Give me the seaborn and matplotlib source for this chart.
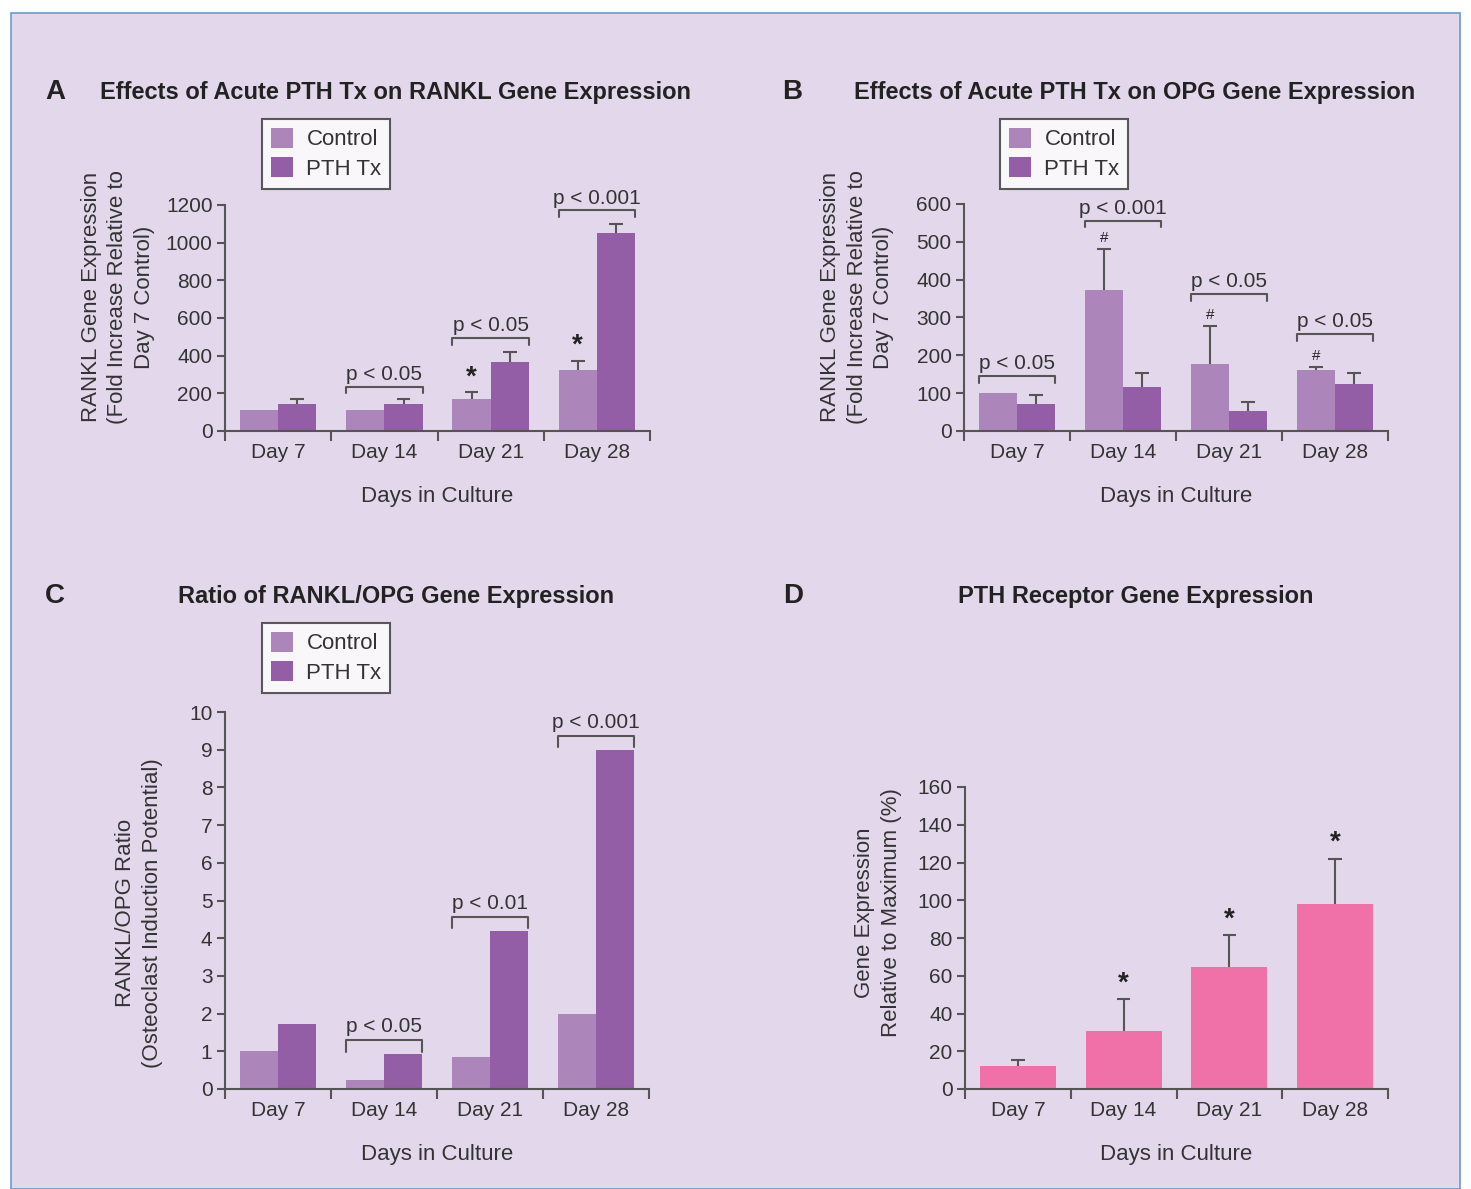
import numpy as np
import pandas as pd
import matplotlib
matplotlib.use("Agg")
import matplotlib.pyplot as plt
import seaborn as sns
from matplotlib.patches import Rectangle, Patch

# ---------------- data ----------------
days = ['Day 7', 'Day 14', 'Day 21', 'Day 28']
groups = ['Control', 'PTH Tx']

# A: RANKL
rankl_ctrl = [109, 113, 171, 325]
rankl_pth = [145, 145, 367, 1050]
rankl_ctrl_err = [0, 0, 37, 49]
rankl_pth_err = [25, 25, 53, 47]
rankl_p_day = [1, 2, 3]
rankl_p_text = ['p < 0.05', 'p < 0.05', 'p < 0.001']
rankl_p_y = [236, 494, 1171]
rankl_star = [False, False, True, True]

# B: OPG
opg_ctrl = [101, 374, 178, 162]
opg_pth = [72, 115, 54, 123]
opg_ctrl_err = [0, 107, 99, 7]
opg_pth_err = [23, 38, 23, 29]
opg_p_day = [0, 1, 2, 3]
opg_p_text = ['p < 0.05', 'p < 0.001', 'p < 0.05', 'p < 0.05']
opg_p_y = [146, 556, 362, 256]
opg_hash = [False, True, True, True]

# C: ratio
ratio_ctrl = [1.01, 0.24, 0.85, 1.99]
ratio_pth = [1.73, 0.94, 4.19, 8.99]
ratio_p_day = [1, 2, 3]
ratio_p_text = ['p < 0.05', 'p < 0.01', 'p < 0.001']
ratio_p_y = [1.29, 4.56, 9.36]

# D: PTH receptor
pthr_vals = [12.2, 30.7, 64.6, 98.0]
pthr_err = [3, 17, 17, 24]

# ---------------- style ----------------
W, H = 1471, 1189
BG = '#E3D8EB'
C_CTRL = '#AC85BB'
C_PTH = '#935EA6'
C_PINK = '#F070A8'
TXT = '#333333'
AXC = '#555555'

sns.set_style("white")
plt.rcParams['font.family'] = ['Liberation Sans', 'DejaVu Sans']
plt.rcParams['text.color'] = TXT

fig = plt.figure(figsize=(W / 100, H / 100), dpi=100)
fig.patch.set_facecolor('white')
fig.patches.append(Rectangle((11 / W, 0), 1449 / W, 1 - 13 / H, transform=fig.transFigure,
                             facecolor=BG, edgecolor='#6A9BD1', linewidth=1.2, zorder=-10))


def px(x, y):
    return x / W, 1 - y / H


def make_ax(left, top, right, bottom):
    ax = fig.add_axes([left / W, 1 - bottom / H, (right - left) / W, (bottom - top) / H])
    ax.set_facecolor('none')
    return ax


def style_ax(ax, ylim, yticks):
    ax.set_xlim(-0.5, 3.5)
    ax.set_ylim(*ylim)
    ax.set_yticks(yticks)
    ax.set_xticks([-0.5, 0.5, 1.5, 2.5, 3.5])
    ax.set_xticklabels([])
    ax.set_xticks(range(4), minor=True)
    ax.set_xticklabels(days, minor=True)
    ax.tick_params(axis='x', which='major', direction='out', length=7, width=1.5, color=AXC, bottom=True)
    ax.tick_params(axis='x', which='minor', length=0, labelsize=15, labelcolor=TXT, pad=9)
    ax.tick_params(axis='y', direction='out', length=6, width=1.5, color=AXC, left=True,
                   labelsize=15, labelcolor=TXT, pad=3)
    for s in ['top', 'right']:
        ax.spines[s].set_visible(False)
    for s in ['left', 'bottom']:
        ax.spines[s].set_color(AXC)
        ax.spines[s].set_linewidth(1.5)
    ax.set_xlabel('Days in Culture', fontsize=16, labelpad=17, color=TXT)
    ax.set_ylabel('')


def grouped(ax, ctrl, pth):
    df = pd.DataFrame({'day': days * 2, 'group': [groups[0]] * 4 + [groups[1]] * 4,
                       'value': list(ctrl) + list(pth)})
    sns.barplot(data=df, x='day', y='value', hue='group', order=days, hue_order=groups,
                palette=[C_CTRL, C_PTH], width=0.72, errorbar=None, saturation=1,
                legend=False, linewidth=0, ax=ax)


def errbars(ax, container, errs, color=AXC):
    # upper-only error bars: stem from bar top plus a cap
    xs = np.array([b.get_x() + b.get_width() / 2 for b in container])
    ys = np.array([b.get_height() for b in container])
    errs = np.array(errs, dtype=float)
    m = errs > 0
    ax.vlines(xs[m], ys[m], ys[m] + errs[m], color=color, lw=1.5, zorder=0.5)
    ax.hlines(ys[m] + errs[m], xs[m] - 0.065, xs[m] + 0.065, color=color, lw=1.5, zorder=0.5)
    return xs, ys + errs


def bracket(ax, i, y, text, ylim):
    c = ax.containers
    x0 = c[0][i].get_x()
    x1 = c[1][i].get_x() + c[1][i].get_width()
    d = (ylim[1] - ylim[0]) * 0.03
    ax.plot([x0, x0, x1, x1], [y - d, y, y, y - d], color=AXC, lw=1.5, clip_on=False)
    ax.text((x0 + x1) / 2, y + d * 0.4, text, ha='center', va='bottom', fontsize=15, color=TXT)


def legend(ax, x, y):
    handles = [Patch(facecolor=C_CTRL, edgecolor='none', label=groups[0]),
               Patch(facecolor=C_PTH, edgecolor='none', label=groups[1])]
    leg = ax.legend(handles=handles, loc='upper left', bbox_to_anchor=px(x, y),
                    bbox_transform=fig.transFigure, frameon=True, fancybox=False,
                    fontsize=16, handlelength=1.0, handleheight=1.0, handletextpad=0.6,
                    borderpad=0.4, labelspacing=0.3, borderaxespad=0)
    leg.get_frame().set_edgecolor('#333333')
    leg.get_frame().set_linewidth(1.5)
    leg.get_frame().set_facecolor('white')


def ylabel(x, y, text):
    fig.text(*px(x, y), text, rotation=90, ha='center', va='center', fontsize=16,
             linespacing=1.35, color=TXT)


def title(letter_x, cx, y, letter, text):
    fig.text(*px(letter_x, y), letter, ha='center', va='center', fontsize=20,
             fontweight='bold', color='#222222')
    fig.text(*px(cx, y), text, ha='center', va='center', fontsize=17,
             fontweight='bold', color='#222222')


# ---------------- A ----------------
axA = make_ax(225, 205, 650, 431)
grouped(axA, rankl_ctrl, rankl_pth)
style_ax(axA, (0, 1200), range(0, 1201, 200))
xs, tops = errbars(axA, axA.containers[0], rankl_ctrl_err)
errbars(axA, axA.containers[1], rankl_pth_err)
for i, s in enumerate(rankl_star):
    if s:
        axA.text(xs[i], tops[i] + 8, '*', ha='center', va='bottom', fontsize=20,
                 fontweight='bold', color='#222222')
for i, t, y in zip(rankl_p_day, rankl_p_text, rankl_p_y):
    bracket(axA, i, y, t, (0, 1200))
legend(axA, 262, 119)
title(55, 396, 92, 'A', 'Effects of Acute PTH Tx on RANKL Gene Expression')
ylabel(118, 297, 'RANKL Gene Expression\n(Fold Increase Relative to\nDay 7 Control)')

# ---------------- B ----------------
axB = make_ax(964, 204, 1388, 431)
grouped(axB, opg_ctrl, opg_pth)
style_ax(axB, (0, 600), range(0, 601, 100))
xs, tops = errbars(axB, axB.containers[0], opg_ctrl_err)
errbars(axB, axB.containers[1], opg_pth_err)
for i, s in enumerate(opg_hash):
    if s:
        axB.text(xs[i], tops[i] + 10, '#', ha='center', va='bottom', fontsize=11,
                 color='#222222')
for i, t, y in zip(opg_p_day, opg_p_text, opg_p_y):
    bracket(axB, i, y, t, (0, 600))
legend(axB, 1000, 119)
title(792, 1135, 92, 'B', 'Effects of Acute PTH Tx on OPG Gene Expression')
ylabel(857, 297, 'RANKL Gene Expression\n(Fold Increase Relative to\nDay 7 Control)')

# ---------------- C ----------------
axC = make_ax(225, 712, 649, 1089)
grouped(axC, ratio_ctrl, ratio_pth)
style_ax(axC, (0, 10), range(0, 11))
for i, t, y in zip(ratio_p_day, ratio_p_text, ratio_p_y):
    bracket(axC, i, y, t, (0, 10))
legend(axC, 262, 623)
title(55, 396, 596, 'C', 'Ratio of RANKL/OPG Gene Expression')
ylabel(139, 913, 'RANKL/OPG Ratio\n(Osteoclast Induction Potential)')

# ---------------- D ----------------
axD = make_ax(965, 787, 1388, 1089)
sns.barplot(x=days, y=pthr_vals, color=C_PINK, width=0.72, errorbar=None,
            saturation=1, linewidth=0, ax=axD)
style_ax(axD, (0, 160), range(0, 161, 20))
xs, tops = errbars(axD, axD.containers[0], pthr_err)
for i in range(1, 4):
    axD.text(xs[i], tops[i] + 1.5, '*', ha='center', va='bottom', fontsize=20,
             fontweight='bold', color='#222222')
title(793, 1136, 596, 'D', 'PTH Receptor Gene Expression')
ylabel(878, 913, 'Gene Expression\nRelative to Maximum (%)')

fig.savefig('out.png', dpi=100, facecolor='white')
